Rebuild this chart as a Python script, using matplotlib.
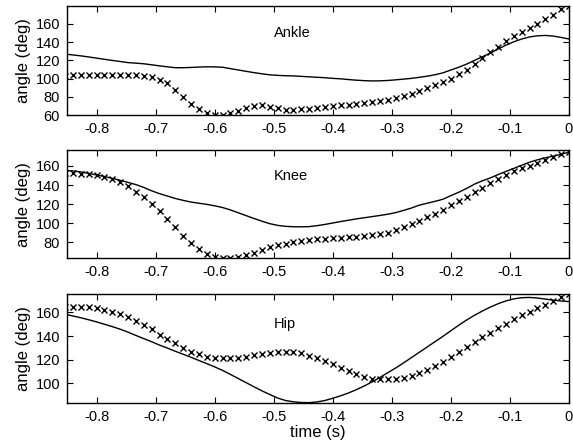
import numpy as np
import matplotlib.pyplot as plt

plt.rcParams['font.family'] = ['Liberation Sans', 'DejaVu Sans']
plt.rcParams['axes.unicode_minus'] = False

# samples at 75 Hz, last one at t = 0
t = (np.arange(65) - 64) / 75.0

ankle_model = [127, 126, 125, 123.8, 122.5, 121.2, 120, 118.8, 117.6, 117, 116.3,
               115.2, 114, 113, 112, 112, 112.3, 112.7, 113, 112.9, 112.5, 111,
               109.5, 108, 106.6, 105.3, 104.2, 103.6, 103.2, 103, 102.5, 102,
               101.5, 101, 100.3, 99.8, 99, 98.3, 97.8, 97.5, 97.6, 98, 98.7,
               99.5, 100.3, 101.5, 102.7, 104.3, 106.4, 109.5, 112.5, 116, 120,
               124, 128, 132.5, 136.8, 140.5, 143.5, 145.8, 147, 147.4, 146.7,
               145.2, 143.5]
ankle_meas = [103, 103.5, 103.5, 104, 104, 104, 104, 104, 104, 103.5, 103, 101.5,
              99, 95, 87.6, 79.5, 72, 66.2, 62.6, 60.5, 60, 61.8, 64.8, 67.8, 70,
              70.7, 69.2, 67.4, 66, 65.6, 66.3, 67, 68.2, 68.9, 69.6, 70.7, 71.5,
              72.2, 73.3, 74.4, 75.5, 76.6, 78.5, 80.5, 83, 86.5, 90, 92.8, 96.1,
              99.7, 104.9, 109.3, 115.6, 122.2, 128.8, 135, 141.6, 146.8, 151.5,
              155.6, 160, 165.2, 170.3, 176, 180]

knee_model = [155.3, 154.8, 153.8, 152.3, 150.6, 149, 147, 145, 142.8, 140.5, 137.5,
              134, 131, 128.5, 126, 124, 122.2, 121, 119.8, 118.3, 116.5, 114, 111,
              108, 105, 102.2, 99.6, 97.8, 96.8, 96.4, 96.3, 96.5, 97.5, 98.8,
              100.3, 101.8, 103.2, 104.6, 105.8, 107, 108.2, 109.5, 111.2, 113.5,
              116, 119, 121, 123, 125.2, 129, 132.5, 136.5, 141, 144.5, 147.5, 151,
              154.3, 157.5, 160.8, 164, 166.5, 168.6, 170.3, 172.3, 174.4]
knee_meas = [152.3, 152.3, 152, 151.6, 150.6, 148.5, 146, 143.2, 139, 133, 127.9,
             120.5, 112.5, 104, 95.7, 87, 79.6, 73, 67.8, 65, 63.5, 63.5, 65, 66.7,
             69.2, 72.4, 74.8, 77.5, 78.8, 80.5, 81.7, 82.4, 83.1, 83.8, 84.2, 84.6,
             85.3, 85.9, 86.6, 87.7, 88.7, 90.1, 92.6, 95.7, 99, 102.3, 106.2, 109.7,
             114.2, 118.8, 123.3, 127.8, 133.1, 137.3, 142.2, 146.7, 150.9, 154.8,
             157.9, 160.3, 162.8, 166, 169.4, 172.6, 175]

hip_model = [158.5, 157, 155.5, 153.8, 152, 150, 148, 145.8, 143.3, 140.5, 137.8,
             135.2, 132.3, 129.8, 127.1, 124.6, 122, 119.3, 116.6, 113.9, 110.9,
             107.5, 104, 100.5, 97, 93.6, 90.5, 87.5, 85.4, 84.3, 83.7, 83.6, 84.2,
             85.4, 87.3, 89.4, 91.8, 94.6, 97.7, 101.2, 105, 109, 113, 117.3, 121.8,
             126.3, 130.8, 135.3, 139.8, 144.5, 149.2, 153.6, 157.6, 161.2, 164.5,
             167.4, 169.8, 171.5, 172.5, 172.7, 172.2, 171.3, 170.4, 169.7, 169.2]
hip_meas = [164.2, 164.8, 164.8, 164.2, 163.4, 162, 160.6, 158.6, 156.3, 153, 149.3,
            145.6, 140.8, 137.2, 133.8, 129.6, 126.8, 124.5, 122.5, 121.1, 121, 121,
            121.5, 122.5, 123.7, 124.5, 125.9, 126.7, 126.7, 126.3, 125.3, 123.3,
            121.1, 118.8, 116.3, 113.2, 110.4, 107.8, 105.1, 103.6, 103.4, 103.4,
            103.6, 104.5, 106, 108.6, 111.2, 114.6, 118.2, 122, 126.2, 130.4, 134.6,
            138.9, 142.8, 146.7, 150.4, 154.1, 157.5, 160.5, 163.4, 166.4, 169.5,
            172.7, 175.5]

joints = ['Ankle', 'Knee', 'Hip']
models = [ankle_model, knee_model, hip_model]
measured = [ankle_meas, knee_meas, hip_meas]
ylims = [(60, 180), (63.2, 176.8), (83.6, 175.5)]
yticks = [[60, 80, 100, 120, 140, 160], [80, 100, 120, 140, 160], [100, 120, 140, 160]]
xticks = [-0.8, -0.7, -0.6, -0.5, -0.4, -0.3, -0.2, -0.1, 0]
xticklabels = ['-0.8', '-0.7', '-0.6', '-0.5', '-0.4', '-0.3', '-0.2', '-0.1', '0']

fig = plt.figure(figsize=(5.73, 4.41), dpi=100)
boxes = [[0.117, 0.739, 0.876, 0.248],
         [0.117, 0.414, 0.876, 0.246],
         [0.117, 0.087, 0.876, 0.246]]

for k in range(3):
    ax = fig.add_axes(boxes[k])
    ax.plot(t, models[k], '-', color='black', lw=1.0)
    ax.plot(t, measured[k], 'x', color='black', ms=4.5, mew=1.0)
    ax.set_xlim(-0.85, 0)
    ax.set_ylim(*ylims[k])
    ax.set_xticks(xticks)
    ax.set_xticklabels(xticklabels)
    ax.set_yticks(yticks[k])
    ax.tick_params(direction='in', top=True, right=True, length=4, width=0.8,
                   labelsize=10.5, pad=5)
    for s in ax.spines.values():
        s.set_linewidth(1.0)
    ax.set_ylabel('angle (deg)', fontsize=12, labelpad=3)
    ax.text(-0.5, 150, joints[k], ha='left', va='center', fontsize=10.5)
    if k == 2:
        ax.set_xlabel('time (s)', fontsize=12, labelpad=1)

fig.savefig('out.png', dpi=100)
